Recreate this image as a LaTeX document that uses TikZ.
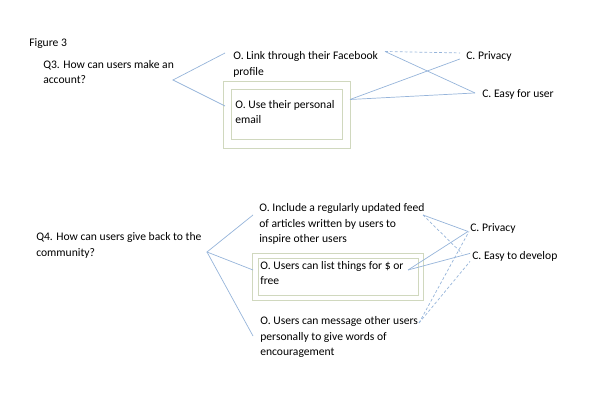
\documentclass[tikz,border=0pt]{standalone}
\usepackage{fontspec}
\setmainfont{Carlito}
\definecolor{LinkBlue}{RGB}{150, 180, 218}
\definecolor{BoxGreen}{RGB}{208, 216, 190}

\begin{document}
\begin{tikzpicture}[x=0.025cm, y=-0.025cm,
        txt/.style={anchor=base west, inner sep=0pt, align=left, font=\fontsize{8.25}{11.2}\selectfont},
        box/.style={draw=BoxGreen, line width=0.6pt, inner sep=0pt},
        link/.style={LinkBlue, line width=0.5pt},
        weak/.style={LinkBlue, line width=0.5pt, dash pattern=on 2pt off 1.5pt}
    ]
        \useasboundingbox (0,0) rectangle (600,400);

        % Q3 block (text nodes sit on the baseline of their last line)
        \node[txt] (fig) at (29, 47) {Figure 3};
        \node[txt] (q3) at (43, 84) {Q3. How can users make an\\account?};
        \node[box, minimum width=3.175cm, minimum height=1.675cm] (mailouter) at (286.5, 114.5) {};
        \node[box, minimum width=2.775cm, minimum height=1.25cm] (mailinner) at (286.5, 114) {};
        \node[txt] (link) at (233, 75.5) {O. Link through their Facebook\\profile};
        \node[txt] (mail) at (235, 124) {O. Use their personal\\email};
        \node[txt] (priv3) at (466, 60) {C. Privacy};
        \node[txt] (easy3) at (482, 98) {C. Easy for user};

        \coordinate (q3tip) at (173, 80);
        \coordinate (linkL) at (225, 53);
        \coordinate (linkR) at (385, 51.5);
        \coordinate (mailL) at (225, 106);
        \coordinate (mailR) at (350, 99.5);

        % Q4 block
        \node[txt] (q4) at (36, 256.5) {Q4. How can users give back to the\\community?};
        \node[box, minimum width=4.275cm, minimum height=1.175cm] (listouter) at (337.5, 276.5) {};
        \node[box, minimum width=4.0cm, minimum height=0.925cm] (listinner) at (338, 276.5) {};
        \node[txt] (feed) at (259, 243) {O. Include a regularly updated feed\\of articles written by users to\\inspire other users};
        \node[txt] (list) at (260, 285) {O. Users can list things for \$ or\\free};
        \node[txt] (msg) at (260, 356) {O. Users can message other users\\personally to give words of\\encouragement};
        \node[txt] (priv4) at (470, 231.5) {C. Privacy};
        \node[txt] (easy4) at (472, 259.5) {C. Easy to develop};

        \coordinate (q4tip) at (207, 252);
        \coordinate (feedL) at (253, 215);
        \coordinate (feedR) at (423, 215);
        \coordinate (listL) at (253, 270);
        \coordinate (listR) at (408, 270);
        \coordinate (msgL) at (253, 336);
        \coordinate (msgR) at (419, 323);

        % Connections Q3
        \draw[link] (linkL) -- (q3tip) -- (mailL);
        \draw[weak] (linkR) -- ([shift={(-6,-4)}]priv3.west);
        \draw[link] (linkR) -- ([shift={(-7,-2)}]easy3.west);
        \draw[link] (mailR) -- ([shift={(-6,2)}]priv3.west);
        \draw[link] (mailR) -- ([shift={(-7,-2)}]easy3.west);

        % Connections Q4
        \draw[link] (feedL) -- (q4tip) -- (listL);
        \draw[link] (q4tip) -- (msgL);
        \draw[link] (feedR) -- ([shift={(-2,3)}]priv4.west);
        \draw[weak] (feedR) -- ([shift={(-10,-3)}]easy4.west);
        \draw[link] (listR) -- ([shift={(-2,3)}]priv4.west);
        \draw[link] (listR) -- ([shift={(-2,-3)}]easy4.west);
        \draw[weak] (msgR) -- ([shift={(-1,3)}]priv4.west);
        \draw[weak] (msgR) -- ([shift={(-2,5)}]easy4.west);
    \end{tikzpicture}
\end{document}
